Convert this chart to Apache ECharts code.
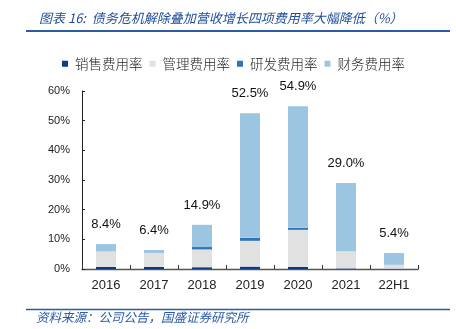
<!DOCTYPE html>
<html>
<head>
<meta charset="utf-8">
<script src="https://cdn.jsdelivr.net/npm/echarts@6/dist/echarts.min.js"></script>
<style>
html,body{margin:0;padding:0;background:#fff;}
#chart{width:456px;height:329px;}
</style>
</head>
<body>
<div id="chart"></div>
<script>
const categories = ['2016','2017','2018','2019','2020','2021','22H1'];
const salesRate = [0.7, 0.7, 0.6, 0.8, 0.7, 0.2, 0.1];
const mgmtRate  = [5.2, 4.7, 6.0, 8.7, 12.5, 5.8, 1.3];
const rdRate    = [0.0, 0.0, 0.8, 1.0, 0.7, 0.0, 0.0];
const finRate   = [2.5, 1.0, 7.5, 42.0, 41.0, 23.0, 4.0];
const totalLabels = ['8.4%','6.4%','14.9%','52.5%','54.9%','29.0%','5.4%'];
const yTicks = [0,10,20,30,40,50,60];
const seriesNames = ['销售费用率','管理费用率','研发费用率','财务费用率'];

const cjk = '"Noto Sans CJK SC", "Noto Sans", sans-serif';
const latin = '"Liberation Sans", Arial, sans-serif';

const chart = echarts.init(document.getElementById('chart'), null, {renderer:'canvas'});

function barSeries(name, data, color, withLabel){
  const s = {
    name: name,
    type: 'bar',
    stack: 'total',
    barWidth: 20,
    data: data,
    itemStyle: {color: color},
    emphasis: {disabled: true}
  };
  if (withLabel) {
    s.label = {
      show: true,
      position: 'top',
      distance: 13,
      fontFamily: latin,
      fontSize: 13,
      color: '#111',
      formatter: p => totalLabels[p.dataIndex]
    };
  }
  return s;
}

chart.setOption({
  animation: false,
  backgroundColor: '#fff',
  title: {
    text: '图表 16:  债务危机解除叠加营收增长四项费用率大幅降低（%）',
    left: 34,
    top: 7,
    textStyle: {fontFamily: cjk, fontStyle: 'italic', fontWeight: 'normal', fontSize: 13, color: '#1f4e9a'}
  },
  legend: {
    data: seriesNames,
    left: 57,
    top: 52,
    itemWidth: 6,
    itemHeight: 6,
    itemGap: 7,
    icon: 'rect',
    textStyle: {fontFamily: cjk, fontSize: 13.5, fontWeight: 300, color: '#222', padding: [0,0,0,2]}
  },
  grid: {left: 82, right: 38, top: 91, bottom: 60, containLabel: false},
  xAxis: {
    type: 'category',
    data: categories,
    axisLine: {lineStyle: {color: '#555', width: 1.3}},
    axisTick: {show: true, inside: true, length: 4, lineStyle: {color: '#333'}},
    axisLabel: {fontFamily: latin, fontSize: 13, color: '#222', margin: 10}
  },
  yAxis: {
    type: 'value',
    min: yTicks[0],
    max: yTicks[yTicks.length-1],
    interval: 10,
    splitLine: {show: false},
    axisLine: {show: true, lineStyle: {color: '#222', width: 1}},
    axisTick: {show: true, inside: true, length: 3, lineStyle: {color: '#222'}},
    axisLabel: {fontFamily: latin, fontSize: 11, color: '#222', margin: 12, formatter: v => v + '%'}
  },
  series: [
    barSeries(seriesNames[0], salesRate, '#0d3a8c', false),
    barSeries(seriesNames[1], mgmtRate, '#e1e1e1', false),
    barSeries(seriesNames[2], rdRate, '#2e74b8', false),
    barSeries(seriesNames[3], finRate, '#9cc5e2', true)
  ],
  graphic: [
    {type: 'line', shape: {x1: 26, y1: 31, x2: 450, y2: 31}, style: {stroke: '#2b5aa6', lineWidth: 2}},
    {type: 'line', shape: {x1: 26, y1: 309.5, x2: 450, y2: 309.5}, style: {stroke: '#2b5aa6', lineWidth: 1.5}},
    {type: 'text', left: 36, top: 311, style: {text: '资料来源：公司公告，国盛证券研究所', font: 'italic 12.5px "Noto Sans CJK SC", sans-serif', fill: '#2b5aa6'}}
  ]
});
</script>
</body>
</html>
